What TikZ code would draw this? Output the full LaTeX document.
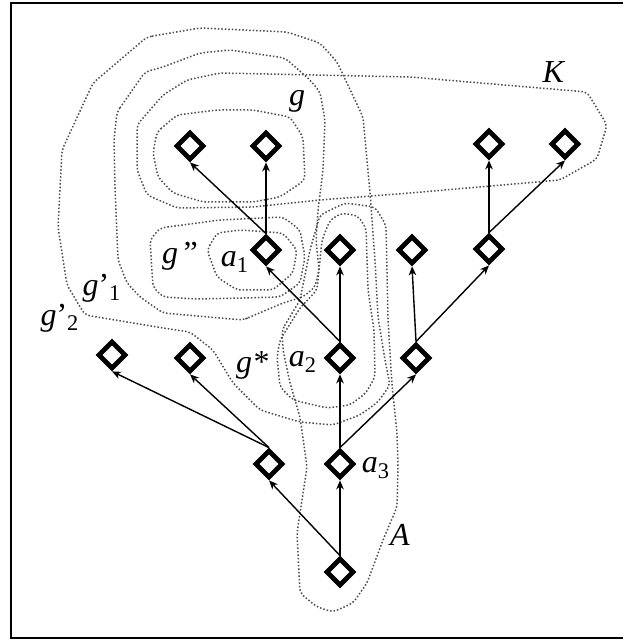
\documentclass[tikz,border=0pt]{standalone}
\usepackage{fontspec}
\setmainfont{Liberation Serif}
\usetikzlibrary{shapes.geometric,arrows.meta}

\tikzset{
  vtx/.style={diamond, draw, line width=2.4pt, minimum size=14pt, inner sep=0pt},
  branch/.style={-{Stealth[length=4.5pt,width=3.8pt,inset=1.4pt]}, line width=0.7pt},
  region/.style={densely dotted, line width=0.75pt, black!70, rounded corners=2.5pt},
  lbl/.style={font=\fontsize{16}{19}\selectfont, inner sep=0pt}
}

\begin{document}
\begin{tikzpicture}[x=0.5pt, y=-0.5pt]
  \useasboundingbox (0,0) rectangle (623,640);

  % 枠
  \draw[line width=1pt] (623,3)--(11,3)--(11,638)--(623,638);

  % 集合
  \draw[region] (157,132)--(177,115)--(217,110)--(253,110)--(290,117)--(303,137)--(305,180)
    --(280,197)--(253,202)--(203,202)--(173,193)--(158,177)--(153,153)--cycle;
  \draw[region] (137,125)--(163,95)--(187,80)--(220,73)--(410,77)--(587,92)--(607,125)--(597,159)
    --(560,180)--(410,193)--(320,200)--(253,207)--(177,208)--(147,195)--(137,170)--cycle;
  \draw[region] (117,112)--(145,72)--(163,67)--(200,53)--(230,50)--(285,58)--(310,80)--(320,92)
    --(325,120)--(323,170)--(318,210)--(316,240)--(319,270)--(315,287)--(303,297)--(283,303)
    --(250,317)--(243,320)--(163,313)--(140,297)--(127,283)--(118,260)--(115,187)--(114,140)--cycle;
  \draw[region] (147,37)--(200,28)--(287,32)--(320,43)--(337,62)--(363,117)--(370,193)--(375,260)
    --(378,317)--(385,360)--(390,385)--(378,402)--(360,415)--(333,425)--(300,422)--(283,417)
    --(260,410)--(233,383)--(213,350)--(190,332)--(163,328)--(85,315)--(67,285)--(58,227)
    --(62,150)--(93,83)--cycle;
  \draw[region] (150,240)--(160,228)--(220,220)--(283,217)--(300,230)--(305,257)--(300,283)
    --(280,297)--(243,298)--(197,299)--(163,297)--(153,287)--cycle;
  \draw[region] (207,250)--(217,233)--(240,230)--(283,233)--(297,250)--(293,273)--(273,290)
    --(237,290)--(217,277)--cycle;
  \draw[region] (330,220)--(342,213)--(358,216)--(366,228)--(368,290)--(374,330)--(375,377)
    --(366,393)--(350,405)--(327,408)--(293,400)--(280,387)--(277,357)--(280,340)--(300,308)
    --(317,290)--(320,260)--(322,240)--cycle;
  \draw[region] (282,330)--(300,300)--(310,250)--(320,215)--(345,203)--(375,207)--(386,225)
    --(388,320)--(392,385)--(397,433)--(398,467)--(397,507)--(383,540)--(367,583)--(353,603)
    --(333,612)--(317,607)--(300,593)--(297,533)--(302,500)--(307,467)--(300,417)--(290,383)
    --(283,350)--cycle;

  % 節点
  \node[vtx] (r) at (340,572) {};
  \node[vtx] (m) at (269,464) {};
  \node[vtx] (a3) at (340,464) {};
  \node[vtx] (l1) at (112,355) {};
  \node[vtx] (l2) at (190,358) {};
  \node[vtx] (a2) at (340,358) {};
  \node[vtx] (b2) at (416,358) {};
  \node[vtx] (a1) at (266,250) {};
  \node[vtx] (c1) at (340,250) {};
  \node[vtx] (c2) at (412,250) {};
  \node[vtx] (c3) at (489,249) {};
  \node[vtx] (t1) at (190,146) {};
  \node[vtx] (t2) at (266,146) {};
  \node[vtx] (t3) at (489,144) {};
  \node[vtx] (t4) at (565,144) {};

  % 枝
  \draw[branch] (r.north)--(m.south);
  \draw[branch] (r.north)--(a3.south);
  \draw[branch] (m.north)--(l1.south);
  \draw[branch] (m.north)--(l2.south);
  \draw[branch] (a3.north)--(a2.south);
  \draw[branch] (a3.north)--(b2.south);
  \draw[branch] (a2.north)--(a1.south);
  \draw[branch] (a2.north)--(c1.south);
  \draw[branch] (b2.north)--(c2.south);
  \draw[branch] (b2.north)--(c3.south);
  \draw[branch] (a1.north)--(t1.south);
  \draw[branch] (a1.north)--(t2.south);
  \draw[branch] (c3.north)--(t3.south);
  \draw[branch] (c3.north)--(t4.south);

  % ラベル
  \node[lbl] (lg) at (297,101) {\textit{g}};
  \node[lbl] (lK) at (554,72) {\textit{K}};
  \node[lbl] (lgpp) at (180,256) {\textit{g}\,”};
  \node[lbl] (la1) at (235,262) {\textit{a}\textsubscript{1}};
  \node[lbl] (lgp1) at (102,288) {\textit{g}’\textsubscript{1}};
  \node[lbl] (lgp2) at (60,318) {\textit{g}’\textsubscript{2}};
  \node[lbl] (lgs) at (252,365) {\textit{g*}};
  \node[lbl] (la2) at (303,362) {\textit{a}\textsubscript{2}};
  \node[lbl] (la3) at (376,468) {\textit{a}\textsubscript{3}};
  \node[lbl] (lA) at (400,535) {\textit{A}};
\end{tikzpicture}
\end{document}
